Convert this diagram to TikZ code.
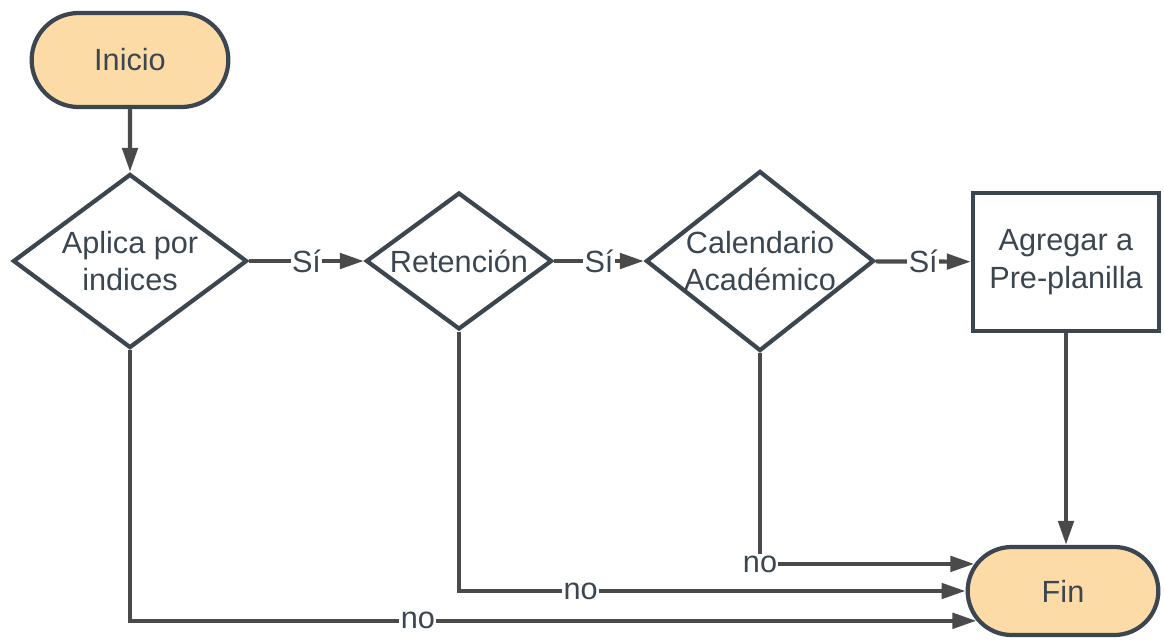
\documentclass[tikz,border=0pt]{standalone}
\usepackage{fontspec}
\setmainfont{Liberation Sans}
\usepackage{xcolor}
\usepackage{tikz}
\usetikzlibrary{arrows.meta,shapes.geometric,shapes.misc}
\definecolor{bordergray}{HTML}{3B4650}
\definecolor{linegray}{HTML}{4A4A4A}
\definecolor{startorange}{HTML}{FDDBA7}

\begin{document}
\begin{tikzpicture}[x=0.025cm, y=-0.025cm,
  every node/.style={font=\fontsize{21.8}{26.5}\selectfont, text=bordergray},
  term/.style={draw=bordergray, line width=3pt, fill=startorange, rounded rectangle, minimum width=5.15cm, minimum height=2.35cm},
  decision/.style={draw=bordergray, line width=3pt, fill=white, diamond, inner sep=0pt, align=center},
  task/.style={draw=bordergray, line width=3pt, fill=white, rectangle, align=center, minimum width=4.65cm, minimum height=3.45cm},
  flow/.style={draw=linegray, line width=3pt, -{Triangle[length=6mm,width=3.8mm]}},
  lbl/.style={fill=white, inner sep=1pt}]

\useasboundingbox (0,0) rectangle (1164,639);

\node (inicio) at (130,60) [term] {Inicio};
\node (aplica) at (130,261) [decision, minimum width=5.85cm, minimum height=4.35cm, aspect=1.345] {Aplica por\\indices};
\node (reten) at (459,261) [decision, minimum width=4.65cm, minimum height=3.42cm, aspect=1.36] {Retención};
\node (calend) at (760,261) [decision, minimum width=5.7cm, minimum height=4.5cm, aspect=1.27] {Calendario\\Académico};
\node (agregar) at (1066,262) [task] {Agregar a\\Pre-planilla};
\node (fin) at (1063,591) [term, minimum width=5.0cm, minimum height=2.2cm] {Fin};

\draw[flow] (inicio) -- (aplica);
\draw[flow] (aplica) -- node[lbl]{Sí} (reten);
\draw[flow] (reten) -- node[lbl]{Sí} (calend);
\draw[flow] (calend) -- node[lbl]{Sí} (agregar);
\draw[flow] (agregar) -- (agregar |- fin.north);

\draw[flow] (calend) |- node[lbl]{no} (fin.163);
\draw[flow] (reten) |- node[lbl, pos=0.62]{no} (fin.west);
\draw[flow] (aplica) |- node[lbl, pos=0.67]{no} (fin.199);

\end{tikzpicture}
\end{document}
